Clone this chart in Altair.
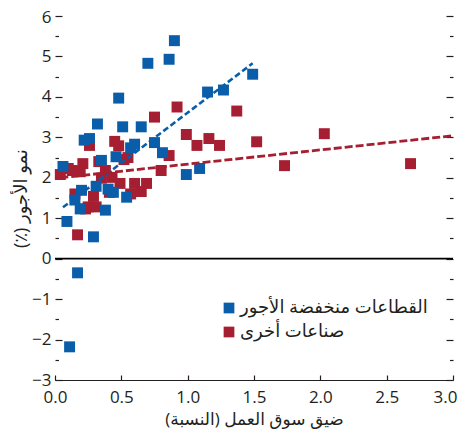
import altair as alt
import pandas as pd

RLE, PDF = "\u202b", "\u202c"
LOW = "القطاعات منخفضة الأجور"
OTH = "صناعات أخرى"
X_TITLE = RLE + "ضيق سوق العمل (النسبة)" + PDF
Y_TITLE = RLE + "نمو الأجور (٪)" + PDF

low_x = [0.90, 0.70, 0.86, 1.49, 1.15, 1.27, 0.48, 0.32, 0.51, 0.65, 0.22, 0.26,
         0.57, 0.60, 0.75, 0.81, 0.35, 0.46, 0.06, 0.99, 1.09, 0.20, 0.31, 0.40,
         0.44, 0.54, 0.15, 0.19, 0.38, 0.09, 0.29, 0.17, 0.11]
low_y = [5.39, 4.83, 4.93, 4.56, 4.12, 4.17, 3.97, 3.33, 3.26, 3.26, 2.93, 2.97,
         2.74, 2.83, 2.87, 2.62, 2.43, 2.52, 2.28, 2.08, 2.23, 1.69, 1.79, 1.72,
         1.64, 1.52, 1.45, 1.23, 1.20, 0.92, 0.54, -0.35, -2.18]

oth_x = [0.75, 0.92, 1.37, 0.99, 1.07, 1.16, 1.24, 1.52, 2.03, 1.73, 2.68, 0.26,
         0.45, 0.48, 0.52, 0.55, 0.86, 0.80, 0.21, 0.33, 0.10, 0.13, 0.19, 0.04,
         0.38, 0.35, 0.43, 0.49, 0.60, 0.69, 0.41, 0.57, 0.65, 0.15, 0.29, 0.23,
         0.25, 0.31, 0.17]
oth_y = [3.50, 3.75, 3.65, 3.07, 2.80, 2.97, 2.80, 2.89, 3.09, 2.30, 2.35, 2.80,
         2.90, 2.79, 2.45, 2.50, 2.55, 2.18, 2.35, 2.40, 2.23, 2.18, 2.15, 2.08,
         2.18, 1.99, 2.01, 1.86, 1.86, 1.86, 1.64, 1.60, 1.66, 1.60, 1.54, 1.23,
         1.28, 1.28, 0.59]

low_fit_x = [0.06, 1.49]
low_fit_y = [1.27, 4.83]
oth_fit_x = [0.04, 3.0]
oth_fit_y = [2.00, 3.04]

x_ticks = [0, 0.5, 1.0, 1.5, 2.0, 2.5, 3.0]
y_major = [-3, -2, -1, 0, 1, 2, 3, 4, 5, 6]
y_minor = [-2.5, -1.5, -0.5, 0.5, 1.5, 2.5, 3.5, 4.5, 5.5]

BLUE = "#0a5da8"
RED = "#a61e31"
FONT = "Open Sans, DejaVu Sans"
TXT = "#231f20"

pts = pd.DataFrame({
    "x": low_x + oth_x,
    "y": low_y + oth_y,
    "g": [LOW] * len(low_x) + [OTH] * len(oth_x),
})
low_fit = pd.DataFrame({"x": low_fit_x, "y": low_fit_y})
oth_fit = pd.DataFrame({"x": oth_fit_x, "y": oth_fit_y})
zero = pd.DataFrame({"y": [0]})

xs = alt.Scale(domain=[0, 3], nice=False, zero=False)
ys = alt.Scale(domain=[-3, 6], nice=False)

points = alt.Chart(pts).mark_point(shape="square", filled=True, size=120, opacity=1, strokeWidth=0).encode(
    x=alt.X("x:Q", scale=xs, axis=alt.Axis(
        orient="bottom", values=x_ticks, format=".1f", title=X_TITLE, ticks=False,
        domain=True, domainColor=TXT, domainWidth=1.2, grid=False, labelPadding=9,
        labelFlush=False,
        labelOffset={"condition": {"test": "datum.value == 3", "value": -8}, "value": 0},
        labelFontSize=17, titleFontSize=17, titleFontWeight="normal", titlePadding=6,
        labelColor=TXT, titleColor=TXT, labelFont=FONT, titleFont=FONT)),
    y=alt.Y("y:Q", scale=ys, axis=alt.Axis(
        orient="left", values=y_major, format="d", title=Y_TITLE, offset=-7, tickSize=7,
        tickColor=TXT, tickWidth=1.2, domain=False, grid=False, labelPadding=4,
        labelOffset={"condition": {"test": "datum.value == 6", "value": 1}, "value": 0},
        labelFontSize=17, titleFontSize=18, titleFontWeight="normal", titlePadding=1,
        labelColor=TXT, titleColor=TXT, labelFont=FONT, titleFont=FONT)),
    color=alt.Color("g:N", scale=alt.Scale(domain=[LOW, OTH], range=[BLUE, RED]),
                    legend=alt.Legend(
                        title=None, orient="none", legendX=165, legendY=283,
                        symbolType="square", symbolSize=115, symbolStrokeWidth=0,
                        labelFontSize=18, labelFont=FONT, labelColor=TXT, labelLimit=400,
                        labelOffset=2, rowPadding=6, padding=0)),
    order=alt.Order("g:N", sort="descending"),
)

zero_rule = alt.Chart(zero).mark_rule(color="#000000", strokeWidth=1.6).encode(
    y=alt.Y("y:Q", scale=ys, axis=alt.Axis(
        orient="right", values=y_minor, offset=-3.5, tickSize=3.5, tickColor=TXT,
        tickWidth=1.2, labels=False, domain=False, grid=False, title=None)),
)

blue_line = alt.Chart(low_fit).mark_line(color=BLUE, strokeWidth=2.6, strokeDash=[6, 3]).encode(
    x=alt.X("x:Q", scale=xs, axis=alt.Axis(
        orient="bottom", values=x_ticks, offset=-5, tickSize=5, tickColor=TXT,
        tickWidth=1.2, labels=False, domain=False, grid=False, title=None)),
    y=alt.Y("y:Q", scale=ys, axis=alt.Axis(
        orient="right", values=y_major, offset=-7, tickSize=7, tickColor=TXT,
        tickWidth=1.2, labels=False, domain=False, grid=False, title=None)),
)

red_line = alt.Chart(oth_fit).mark_line(color=RED, strokeWidth=2.8, strokeDash=[8, 3]).encode(
    x=alt.X("x:Q", scale=xs, axis=None),
    y=alt.Y("y:Q", scale=ys, axis=alt.Axis(
        orient="left", values=y_minor, offset=-3.5, tickSize=3.5, tickColor=TXT,
        tickWidth=1.2, labels=False, domain=False, grid=False, title=None)),
)

chart = alt.layer(zero_rule, points, blue_line, red_line).resolve_axis(
    x="independent", y="independent"
).properties(
    width=398, height=364,
    autosize=alt.AutoSizeParams(type="none"),
    padding={"left": 47, "top": 8, "right": 5, "bottom": 49},
    background="white",
).configure_view(stroke=None)

chart.save("out.html", embed_options={"renderer": "svg", "actions": False})
